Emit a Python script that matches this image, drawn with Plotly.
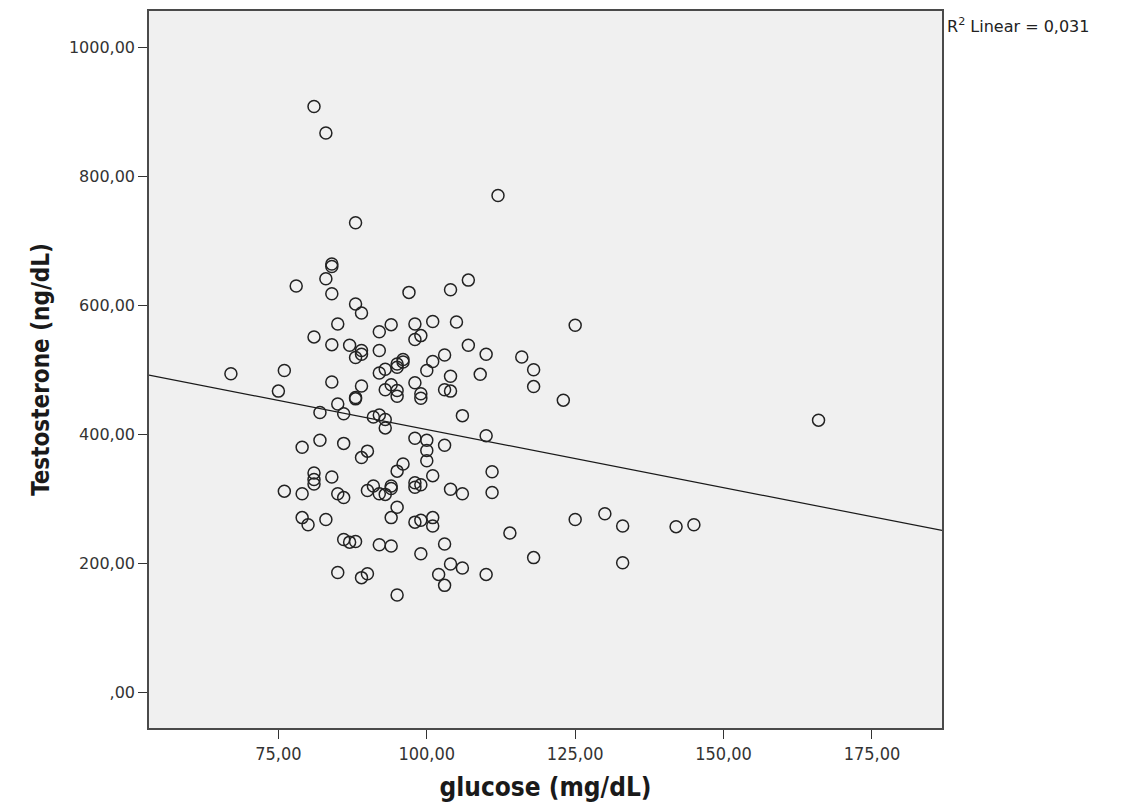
import numpy as np
import plotly.graph_objects as go

# glucose (mg/dL)
glucose = [
    81, 83, 112, 88,
    84, 84, 83, 78, 84, 97, 104, 107, 88, 89, 85, 94, 92, 98, 101, 105, 99, 98,
    81, 84, 87, 89, 88, 89, 92, 107, 110, 116, 118, 118, 109, 103, 101, 100, 104,
    125, 123,
    95, 96, 96, 95, 93, 92, 67, 76, 75, 84, 89, 94, 93, 95, 95, 98, 99, 99, 103, 104,
    88, 88, 85, 82, 86, 106, 91, 92, 93, 93, 110, 98, 100, 100, 100, 103, 79, 82, 86,
    90, 89,
    81, 81, 81, 84, 76, 79, 85, 86, 96, 95, 101, 111, 111, 104, 106, 98, 99, 98, 91,
    90, 92, 93, 94, 94,
    95, 79, 80, 83, 94, 98, 99, 101, 101, 114, 118, 125, 130, 133, 142, 145, 133, 166,
    86, 87, 88, 92, 94, 103, 99, 85, 89, 90, 95, 102, 103, 104, 106, 110,
]

# Testosterone (ng/dL)
testosterone = [
    908, 867, 770, 728,
    664, 660, 641, 630, 618, 620, 624, 639, 602, 588, 571, 570, 559, 571, 575, 574, 553, 547,
    551, 539, 538, 530, 519, 524, 530, 538, 524, 520, 500, 474, 493, 523, 513, 499, 490,
    569, 453,
    509, 512, 516, 504, 501, 495, 494, 499, 467, 481, 475, 477, 469, 468, 459, 480, 463, 456, 469, 467,
    457, 455, 447, 434, 432, 429, 427, 430, 423, 410, 398, 394, 391, 375, 359, 383, 380, 391, 386,
    374, 364,
    340, 330, 323, 334, 312, 308, 308, 302, 354, 343, 336, 342, 310, 315, 308, 325, 322, 318, 320,
    313, 308, 307, 320, 316,
    287, 271, 260, 268, 271, 264, 267, 271, 258, 247, 209, 268, 277, 258, 257, 260, 201, 422,
    237, 233, 234, 229, 227, 230, 215, 186, 178, 184, 151, 183, 166, 199, 193, 183,
]

x_tick_vals = [75, 100, 125, 150, 175]
x_tick_text = ["75,00", "100,00", "125,00", "150,00", "175,00"]
y_tick_vals = [0, 200, 400, 600, 800, 1000]
y_tick_text = [",00", "200,00", "400,00", "600,00", "800,00", "1000,00"]
x_range = [53.2, 186.8]
y_range = [-55, 1056]
x_title = "glucose (mg/dL)"
y_title = "Testosterone (ng/dL)"
r2_label = "R<sup>2</sup> Linear = 0,031"

# linear fit computed from the data
slope, intercept = np.polyfit(glucose, testosterone, 1)
fit_x = np.array(x_range)
fit_y = intercept + slope * fit_x

COND = "DejaVu Sans Condensed, Liberation Sans Narrow, DejaVu Sans, sans-serif"
WIDE = "DejaVu Sans, Verdana, sans-serif"

fig = go.Figure()
fig.add_trace(go.Scatter(
    x=fit_x, y=fit_y, mode="lines",
    line=dict(color="#1a1a1a", width=1.2),
    hoverinfo="skip", showlegend=False,
))
fig.add_trace(go.Scatter(
    x=glucose, y=testosterone, mode="markers",
    marker=dict(symbol="circle-open", size=12, color="#222222",
                line=dict(width=1.5, color="#222222")),
    showlegend=False,
))

frame = dict(
    showgrid=False, zeroline=False,
    showline=True, linecolor="#4a4a4a", linewidth=1.5, mirror=True,
    ticks="outside", ticklen=9, tickcolor="#333333", tickwidth=1.3,
)

fig.update_xaxes(
    range=x_range, tickmode="array", tickvals=x_tick_vals, ticktext=x_tick_text,
    tickfont=dict(family=COND, size=18, color="#333333"),
    title=dict(text=x_title, standoff=14,
               font=dict(family=COND, size=26, color="#1a1a1a", weight="bold")),
    **frame,
)
fig.update_yaxes(
    range=y_range, tickmode="array", tickvals=y_tick_vals, ticktext=y_tick_text,
    tickfont=dict(family=WIDE, size=16, color="#333333"),
    title=dict(text=y_title, standoff=12,
               font=dict(family=COND, size=24, color="#1a1a1a", weight="bold")),
    **frame,
)

fig.add_annotation(
    text=r2_label, xref="paper", yref="paper", x=1.004, y=1.0,
    xanchor="left", yanchor="top", yshift=-2, showarrow=False,
    font=dict(family=WIDE, size=16, color="#222222"),
)

fig.update_layout(
    width=1129, height=808,
    margin=dict(l=141, r=195, t=1, b=88),
    plot_bgcolor="#F0F0F0", paper_bgcolor="white",
)

fig.write_html("out.html")
